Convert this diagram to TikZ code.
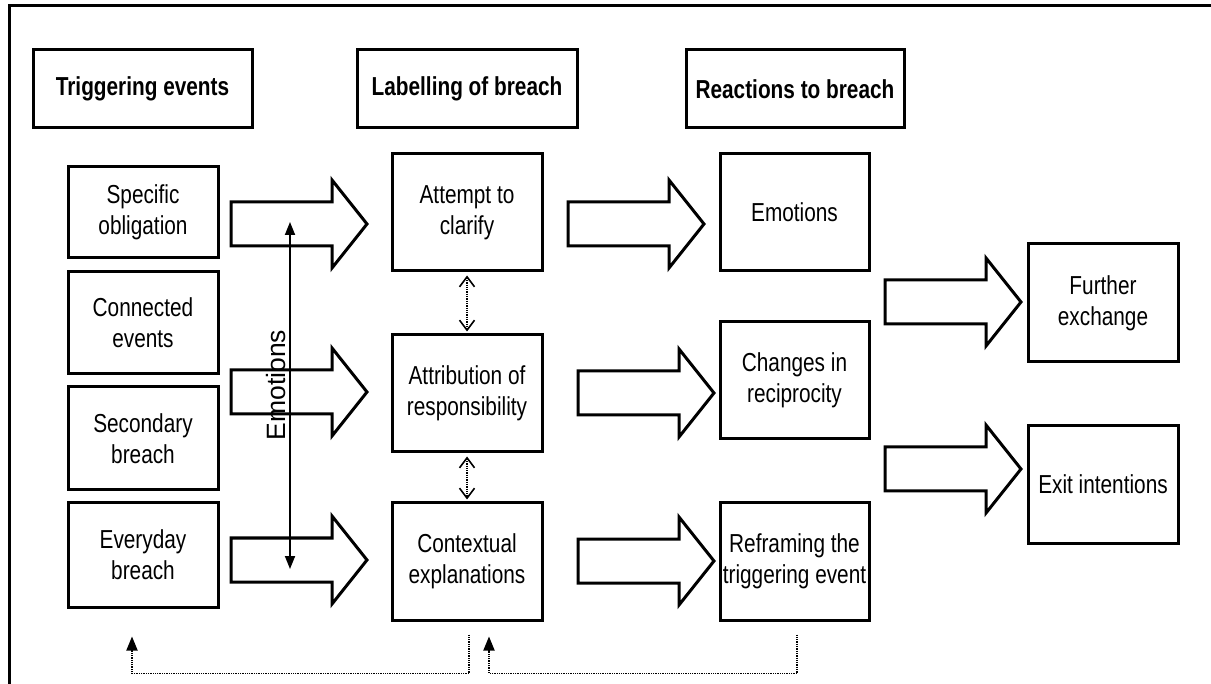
\documentclass[tikz,border=0pt]{standalone}
\usepackage{fontspec}
\setmainfont{Liberation Sans}[FakeStretch=0.80]
\newfontfamily\plainsans{Liberation Sans}
\usetikzlibrary{arrows.meta,calc}
\begin{document}
\begin{tikzpicture}[x=1pt,y=-1pt,
  box/.style={draw, line width=3pt, align=center, inner sep=0pt,
    font=\fontsize{26}{31}\selectfont},
  hbox/.style={box, font=\fontsize{26}{31}\selectfont\bfseries, minimum height=78pt},
  lbox/.style={box, minimum width=150pt},
  blk/.style={draw, line width=3pt, line join=miter, fill=white},
  dotarrow/.style={line width=1.8pt, dash pattern=on 1.3pt off 1pt, -{Triangle[length=14pt,width=11pt]}},
  dblarrow/.style={line width=1.6pt, dash pattern=on 1.3pt off 1pt, shorten <=3pt, shorten >=2pt,
    {Straight Barb[length=10pt,width=15pt,line width=1.6pt]}-{Straight Barb[length=10pt,width=15pt,line width=1.6pt]}},
  emoline/.style={line width=1.8pt, {Triangle[length=13pt,width=10pt]}-{Triangle[length=13pt,width=10pt]}},
  barrow/.pic={\draw[blk] (0,-22) -- (101,-22) -- (101,-44) -- (136,0) -- (101,44) -- (101,22) -- (0,22) -- cycle;}
]
\useasboundingbox (0,0) rectangle (1211,684);
\fill[white] (0,0) rectangle (1211,684);
\draw[line width=3pt] (9,690) -- (9,6) -- (1220,6);

% headers
\node[hbox, minimum width=219pt] (h1) at (142.5,89) {Triggering events};
\node[hbox, minimum width=220pt] (h2) at (467,89) {Labelling of breach};
\node[hbox, minimum width=218pt] (h3) at (795,89) {Reactions to breach};

% triggering events
\node[lbox, minimum height=91pt]  (spec)  at (143,212.5) {Specific\\obligation};
\node[lbox, minimum height=102pt] (conn)  at (143,323)   {Connected\\events};
\node[lbox, minimum height=103pt] (sec)   at (143,438.5) {Secondary\\breach};
\node[lbox, minimum height=104pt] (every) at (143,555)   {Everyday\\breach};

% labelling
\node[lbox, minimum height=117pt] (att)  at (467,212.5) {Attempt to\\clarify};
\node[lbox, minimum height=117pt] (attr) at (467,393.5) {Attribution of\\responsibility};
\node[lbox, minimum height=117pt] (ctx)  at (467,561.5) {Contextual\\explanations};

% reactions
\node[lbox, minimum width=149pt, minimum height=117pt] (emo)  at (794.5,212.5) {Emotions};
\node[lbox, minimum width=149pt, minimum height=117pt] (chg)  at (794.5,380.5) {Changes in\\reciprocity};
\node[lbox, minimum width=149pt, minimum height=117pt] (refr) at (794.5,561.5) {Reframing the\\triggering event};

% outcomes
\node[lbox, minimum height=118pt] (fur)  at (1103,303)   {Further\\exchange};
\node[lbox, minimum height=117pt] (exit) at (1103,484.5) {Exit intentions};

% block arrows
\pic at (231,224) {barrow};
\pic at (231,392) {barrow};
\pic at (231,560) {barrow};
\pic at (568,224) {barrow};
\pic at (578,393) {barrow};
\pic at (578,561) {barrow};
\pic at (885,302) {barrow};
\pic at (885,469) {barrow};

% emotions arrow
\coordinate (etop) at (290,222);
\coordinate (ebot) at (290,569);
\draw[emoline] (ebot) -- (etop);
\node[font=\plainsans\fontsize{26.5}{30}\selectfont, rotate=90, anchor=base, inner sep=0pt] (emolab) at (285,385) {Emotions};

% dotted double arrows
\draw[dblarrow] (att.south) -- (attr.north);
\draw[dblarrow] (attr.south) -- (ctx.north);

% feedback arrows
\draw[dotarrow] ($(ctx.south)+(2,13)$) -- ++(0,39) -| ($(every.south)+(-11,28)$);
\draw[dotarrow] ($(refr.south)+(2.5,13)$) -- ++(0,39) -| ($(ctx.south)+(22,15)$);
\end{tikzpicture}
\end{document}
